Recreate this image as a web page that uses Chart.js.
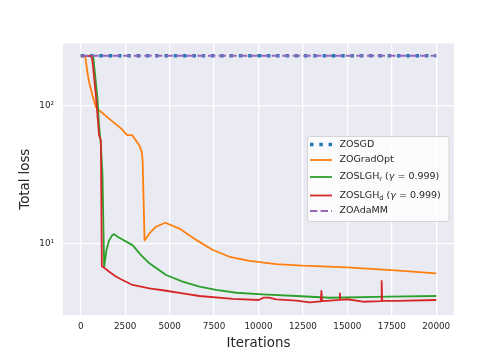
<!DOCTYPE html>
<html>
<head>
<meta charset="utf-8">
<script src="https://cdn.jsdelivr.net/npm/chart.js@4.4.1/dist/chart.umd.min.js"></script>
<style>
  html, body { margin: 0; padding: 0; background: #fff; }
  canvas { display: block; }
</style>
</head>
<body>
<canvas id="lossChart" width="504" height="360"></canvas>
<script>
//// Data

// ZOSGD - flat, never moves
const sgdIters = [0, 20000];
const sgdLoss = [228, 228];

// ZOGradOpt
const gradOptIters = [0, 250, 370, 470, 655, 850, 1030, 1690, 2260, 2610, 2900, 3290, 3430, 3480, 3590,
    3860, 4230, 4760, 5550, 6490, 7430, 8370, 9500, 11000, 12490, 14970, 17490, 20000];
const gradOptLoss = [228, 228, 174, 147, 118, 97, 92, 78, 68, 60.7, 60.7, 51.4, 46, 40, 10.5,
    11.8, 13.2, 14.1, 12.8, 10.6, 8.95, 8.0, 7.48, 7.08, 6.89, 6.71, 6.41, 6.07];

// ZOSLGH_r
const slghRIters = [0, 700, 750, 940, 1030, 1130, 1220, 1315, 1445, 1600, 1780, 1880, 2070, 2730, 2910, 3390,
    3860, 4800, 5730, 6680, 7620, 8750, 10230, 12130, 14010, 17400, 20000];
const slghRLoss = [228, 228, 195, 112, 71.7, 51.4, 32.2, 6.77, 8.95, 10.56, 11.48, 11.67, 11.16, 10.0, 9.72, 8.23,
    7.17, 5.90, 5.28, 4.86, 4.60, 4.39, 4.28, 4.16, 4.04, 4.11, 4.16];

// ZOSLGH_d
const slghDIters = [0, 600, 655, 850, 1030, 1130, 1185, 1600, 1975, 2260, 2910, 3860, 4800, 5730, 6680, 8560,
    10000, 10300, 10600, 11000, 12130, 12880, 13500, 13540, 13580, 14010, 14560, 14580, 14600, 15000,
    15870, 16900, 16930, 16960, 17780, 20000];
const slghDLoss = [228, 228, 210, 118, 60.7, 55.8, 6.85, 6.23, 5.75, 5.5, 5.0, 4.73, 4.54, 4.35, 4.16, 3.96,
    3.89, 4.05, 4.05, 3.93, 3.85, 3.74, 3.80, 4.52, 3.82, 3.85, 3.90, 4.35, 3.90, 3.94,
    3.78, 3.82, 5.34, 3.85, 3.83, 3.89];

// ZOAdaMM - flat too
const adammIters = [0, 20000];
const adammLoss = [228, 228];

// axes
const xTicks = [0, 2500, 5000, 7500, 10000, 12500, 15000, 17500, 20000];
const yTicks = [10, 100];
const yTickLabels = ['10¹', '10²'];

// legend text, split so subscripts / italic gamma can be drawn
const legendLabels = [
    [{ text: 'ZOSGD' }],
    [{ text: 'ZOGradOpt' }],
    [{ text: 'ZOSLGH' }, { text: 'r', sub: true }, { text: ' (' }, { text: 'γ', italic: true }, { text: ' = 0.999)' }],
    [{ text: 'ZOSLGH' }, { text: 'd', sub: true }, { text: ' (' }, { text: 'γ', italic: true }, { text: ' = 0.999)' }],
    [{ text: 'ZOAdaMM' }]
];

const seriesColors = ['#1f77b4', '#ff7f0e', '#2ca02c', '#d62728', '#9467bd'];
const textColor = '#262626';

// helpers
const toPoints = (xs, ys) => xs.map((x, i) => ({ x: x, y: ys[i] }));

// grey seaborn-ish plot area
const plotBackground = {
    id: 'plotBackground',
    beforeDraw(chart) {
        const { ctx, chartArea } = chart;
        ctx.save();
        ctx.fillStyle = '#eaeaf2';
        ctx.fillRect(chartArea.left, chartArea.top, chartArea.right - chartArea.left, chartArea.bottom - chartArea.top);
        ctx.restore();
    }
};

// legend drawn inside the axes (chart.js has no "inside" legend)
const insideLegend = {
    id: 'insideLegend',
    afterDraw(chart) {
        const ctx = chart.ctx;
        const rowsY = [144.5, 160, 177, 195.5, 211];
        const fontSize = 9.5;

        ctx.save();
        ctx.beginPath();
        ctx.roundRect(307.5, 136.5, 141.5, 85, 3);
        ctx.fillStyle = 'rgba(255,255,255,0.8)';
        ctx.fill();
        ctx.strokeStyle = 'rgba(204,204,204,0.8)';
        ctx.lineWidth = 1;
        ctx.stroke();

        chart.data.datasets.forEach((ds, i) => {
            const y = rowsY[i];
            ctx.beginPath();
            ctx.strokeStyle = ds.borderColor;
            ctx.lineWidth = ds.borderWidth;
            ctx.setLineDash(ds.borderDash || []);
            ctx.moveTo(310, y);
            ctx.lineTo(332, y);
            ctx.stroke();
            ctx.setLineDash([]);

            let x = 339.5;
            ctx.fillStyle = textColor;
            ctx.textBaseline = 'middle';
            ctx.textAlign = 'left';
            legendLabels[i].forEach(part => {
                const size = part.sub ? fontSize * 0.7 : fontSize;
                ctx.font = (part.italic ? 'italic ' : '') + size + 'px "DejaVu Sans"';
                ctx.fillText(part.text, x, part.sub ? y + 2.5 : y);
                x += ctx.measureText(part.text).width;
            });
        });
        ctx.restore();
    }
};

//// Chart
window.onload = () => {
    const canvas = document.getElementById('lossChart');
    Chart.defaults.font.family = '"DejaVu Sans", sans-serif';
    Chart.defaults.color = textColor;

    const datasets = [
        { label: 'ZOSGD', data: toPoints(sgdIters, sgdLoss), borderColor: seriesColors[0],
          borderWidth: 3.5, borderDash: [3.5, 5.8], order: 5 },
        { label: 'ZOGradOpt', data: toPoints(gradOptIters, gradOptLoss), borderColor: seriesColors[1],
          borderWidth: 1.8, order: 4 },
        { label: 'ZOSLGHr', data: toPoints(slghRIters, slghRLoss), borderColor: seriesColors[2],
          borderWidth: 1.8, order: 3 },
        { label: 'ZOSLGHd', data: toPoints(slghDIters, slghDLoss), borderColor: seriesColors[3],
          borderWidth: 1.8, order: 2 },
        { label: 'ZOAdaMM', data: toPoints(adammIters, adammLoss), borderColor: seriesColors[4],
          borderWidth: 2, borderDash: [7.4, 3.2], order: 1 }
    ];

    new Chart(canvas, {
        type: 'line',
        data: { datasets: datasets },
        options: {
            responsive: false,
            animation: false,
            devicePixelRatio: 1,
            elements: { point: { radius: 0 }, line: { tension: 0, borderJoinStyle: 'round' } },
            layout: { padding: { left: 0, top: 43.5, right: 50, bottom: 0 } },
            plugins: { legend: { display: false }, tooltip: { enabled: false } },
            scales: {
                x: {
                    type: 'linear',
                    min: -1000,
                    max: 21000,
                    afterBuildTicks: scale => { scale.ticks = xTicks.map(v => ({ value: v })); },
                    afterFit: scale => { scale.height = 45; },
                    ticks: { callback: v => String(v), font: { size: 8.8 }, padding: 6, maxRotation: 0 },
                    grid: { color: '#ffffff', lineWidth: 1.3, drawTicks: false },
                    border: { display: false },
                    title: { display: true, text: 'Iterations', font: { size: 13.4 }, padding: { top: 0, bottom: 8 } }
                },
                y: {
                    type: 'logarithmic',
                    min: 3.03,
                    max: 280,
                    afterBuildTicks: scale => { scale.ticks = yTicks.map(v => ({ value: v })); },
                    afterFit: scale => { scale.width = 63; },
                    ticks: { callback: v => yTickLabels[yTicks.indexOf(v)], font: { size: 8.8 }, padding: 9 },
                    grid: { color: '#ffffff', lineWidth: 1.3, drawTicks: false },
                    border: { display: false },
                    title: { display: true, text: 'Total loss', font: { size: 13.3 }, padding: { top: 17.5, bottom: 0 } }
                }
            }
        },
        plugins: [plotBackground, insideLegend]
    });
};
</script>
</body>
</html>
